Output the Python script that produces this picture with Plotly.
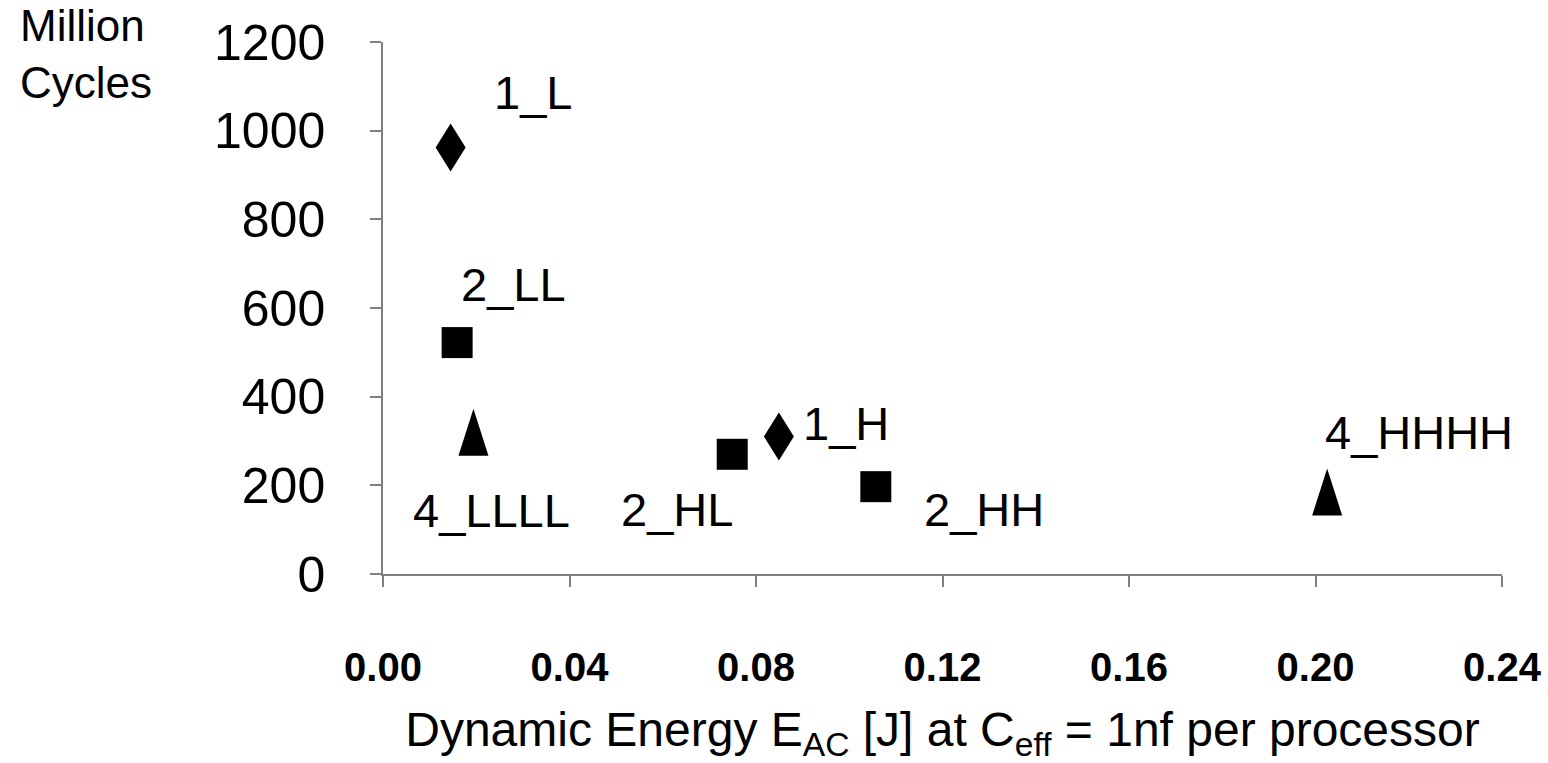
import plotly.graph_objects as go

# ---- data ----
labels = ["1_L", "2_LL", "4_LLLL", "2_HL", "1_H", "2_HH", "4_HHHH"]
energy = [0.0145, 0.0159, 0.0194, 0.0749, 0.0849, 0.1057, 0.2025]
cycles = [962, 522, 320, 270, 310, 197, 185]
procs = [1, 2, 4, 2, 1, 2, 4]

x_ticks = [0.00, 0.04, 0.08, 0.12, 0.16, 0.20, 0.24]
y_ticks = [0, 200, 400, 600, 800, 1000, 1200]

# label offsets (pixels) relative to their point
label_dx = [82, 56, 18, -55, 67, 108, 92]
label_dy = [55, 58, -78, -55, 13, -23, 59]

FONT = "Liberation Sans, Arial, Helvetica, sans-serif"

fig = go.Figure()

groups = {1: ("diamond-tall", 30), 2: ("square", 31), 4: ("triangle-up", 14)}
for p, (sym, size) in groups.items():
    xs = [e for e, q in zip(energy, procs) if q == p]
    ys = [c for c, q in zip(cycles, procs) if q == p]
    fig.add_trace(go.Scatter(
        x=xs, y=ys, mode="markers", name=f"{p} processor(s)",
        marker=dict(symbol=sym, size=size, color="black", line=dict(width=0)),
        showlegend=False, cliponaxis=False,
    ))

# marker outlines (pixel-sized) anchored to the data points
marker_paths = {
    1: "M0,24 L15,0 L0,-24 L-15,0 Z",
    4: "M0,23.5 L15,-23.5 L-15,-23.5 Z",
}
shapes = []
for e, c, q in zip(energy, cycles, procs):
    if q in marker_paths:
        shapes.append(dict(
            type="path", xref="x", yref="y", xsizemode="pixel", ysizemode="pixel",
            xanchor=e, yanchor=c, path=marker_paths[q],
            fillcolor="black", line=dict(width=0), layer="above",
        ))

annotations = []
for lab, e, c, dx, dy in zip(labels, energy, cycles, label_dx, label_dy):
    annotations.append(dict(
        x=e, y=c, xref="x", yref="y", text=lab, showarrow=False,
        xshift=dx, yshift=dy, font=dict(family=FONT, size=47, color="black"),
    ))

annotations.append(dict(
    x=-0.3262, y=1.08, xref="paper", yref="paper", xanchor="left", yanchor="top",
    text="Million<br>Cycles", align="left", showarrow=False,
    font=dict(family=FONT, size=44, color="black"),
))

fig.update_layout(
    width=1548, height=763,
    margin=dict(l=383, r=46, t=42, b=189),
    paper_bgcolor="white", plot_bgcolor="white",
    shapes=shapes, annotations=annotations,
    showlegend=False,
    font=dict(family=FONT, color="black"),
)

fig.update_xaxes(
    range=[0, 0.24], tickvals=x_ticks, ticktext=[f"{v:.2f}" for v in x_ticks],
    showgrid=False, zeroline=False, showline=True, linecolor="#808080", linewidth=1.5,
    ticks="outside", ticklen=11, tickcolor="#808080", tickwidth=1.5,
    tickfont=dict(family=FONT, size=40, color="black", weight="bold"),
    ticklabelstandoff=46,
    title=dict(text="Dynamic Energy E<sub>AC</sub> [J] at C<sub>eff</sub> = 1nf per processor",
               font=dict(family=FONT, size=48, color="black"), standoff=25),
    automargin=False,
)
fig.update_yaxes(
    range=[0, 1200], tickvals=y_ticks,
    showgrid=False, zeroline=False, showline=True, linecolor="#808080", linewidth=1.5,
    ticks="outside", ticklen=11, tickcolor="#808080", tickwidth=1.5,
    tickfont=dict(family=FONT, size=50, color="black"),
    ticklabelstandoff=35,
    automargin=False,
)

fig.write_html("out.html", post_script="document.body.style.margin='0';",
               config={"displayModeBar": False})
